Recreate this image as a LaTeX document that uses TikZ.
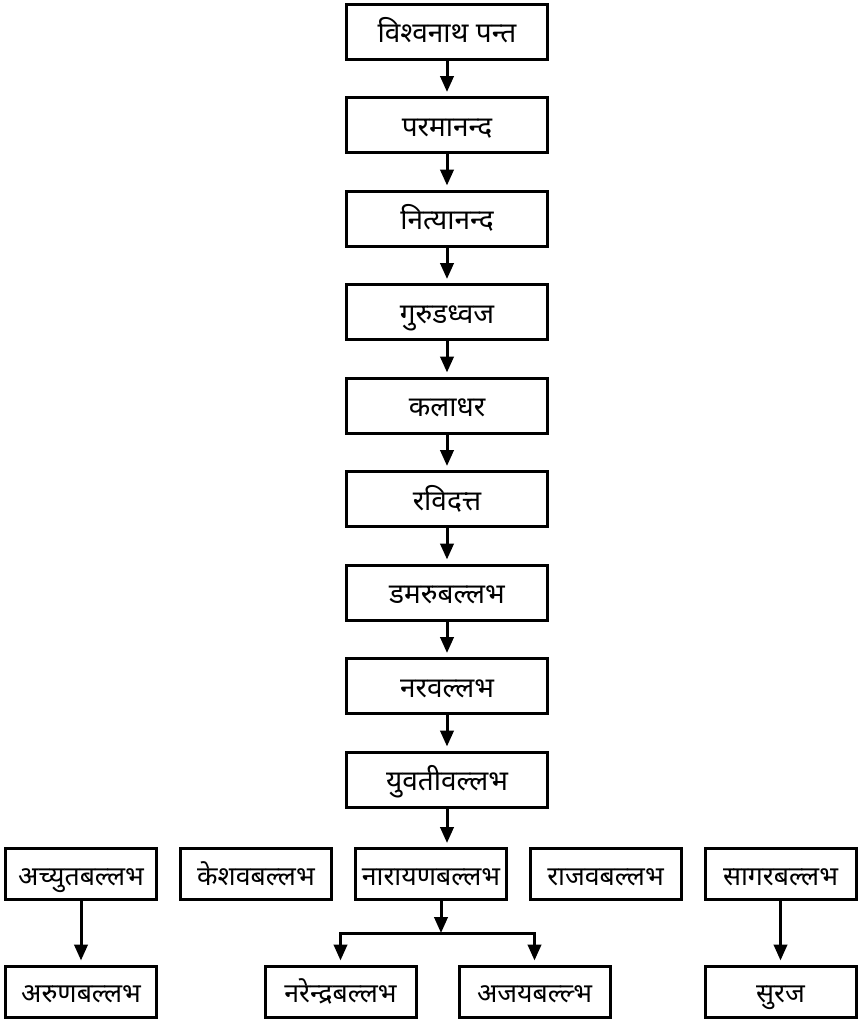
\documentclass[tikz,border=0pt]{standalone}
\usepackage{fontspec}
\newfontfamily\devfont[Script=Devanagari]{Noto Sans}
\usetikzlibrary{arrows.meta}
\tikzset{
	gen/.style={draw, line width=2.25pt, minimum width=150.75pt, minimum height=41.25pt, inner sep=0pt, text height=17pt, text depth=0pt, font=\devfont\fontsize{21}{24}\selectfont},
	kin/.style={gen, minimum width=113.25pt, minimum height=38.25pt, text height=16.5pt, font=\devfont\fontsize{20}{24}\selectfont},
	link/.style={line width=2.25pt, -{Triangle[length=12pt,width=10pt]}},
	bar/.style={line width=2.25pt}
}

\begin{document}
\begin{tikzpicture}[x=0.75pt,y=-0.75pt]
			%%%%% START %%%%%
			\useasboundingbox (0,0) rectangle (862,1021);
			
			\node[gen] (vishwanath) at (447, 31.5) {विश्वनाथ पन्त};
			\node[gen] (paramanand) at (447, 125) {परमानन्द};
			\node[gen] (nityanand) at (447, 218.5) {नित्यानन्द};
			\node[gen] (gurudhwaj) at (447, 312) {गुरुडध्वज};
			\node[gen] (kaladhar) at (447, 405.5) {कलाधर};
			\node[gen] (ravidatt) at (447, 499) {रविदत्त};
			\node[gen] (damaru) at (447, 592.5) {डमरुबल्लभ};
			\node[gen] (nara) at (447, 686) {नरवल्लभ};
			\node[gen] (yuvati) at (447, 779.5) {युवतीवल्लभ};
			
			\node[kin] (achyut) at (81, 874) {अच्युतबल्लभ};
			\node[kin] (keshav) at (256, 874) {केशवबल्लभ};
			\node[kin] (narayan) at (431, 874) {नारायणबल्लभ};
			\node[kin] (rajav) at (605.5, 874) {राजवबल्लभ};
			\node[kin] (sagar) at (780.5, 874) {सागरबल्लभ};
			
			\node[kin] (arun) at (81, 991.5) {अरुणबल्लभ};
			\node[kin] (narendra) at (340.5, 991.5) {नरेन्द्रबल्लभ};
			\node[kin] (ajay) at (534.5, 991.5) {अजयबल्ल्भ};
			\node[kin] (suraj) at (780.5, 991.5) {सुरज};
			
			\foreach \a/\b in {vishwanath/paramanand, paramanand/nityanand, nityanand/gurudhwaj, gurudhwaj/kaladhar, kaladhar/ravidatt, ravidatt/damaru, damaru/nara, nara/yuvati}
				\draw[link, shorten >=3pt] (\a) -- (\b);
			\draw[link, shorten >=3pt] (yuvati.south) -- (yuvati.south |- narayan.north);
			
			\draw[link, shorten >=3pt] (achyut) -- (arun);
			\draw[link, shorten >=3pt] (sagar) -- (suraj);
			
			\coordinate (fork) at (441, 933);
			\draw[link] (narayan.south -| fork) -- (fork);
			\draw[bar] ([xshift=-1.125pt]fork -| narendra) -- ([xshift=1.125pt]fork -| ajay);
			\draw[link, shorten >=3pt] (fork -| narendra) -- (narendra);
			\draw[link, shorten >=3pt] (fork -| ajay) -- (ajay);
			%%%%% END %%%%%
\end{tikzpicture}
\end{document}
